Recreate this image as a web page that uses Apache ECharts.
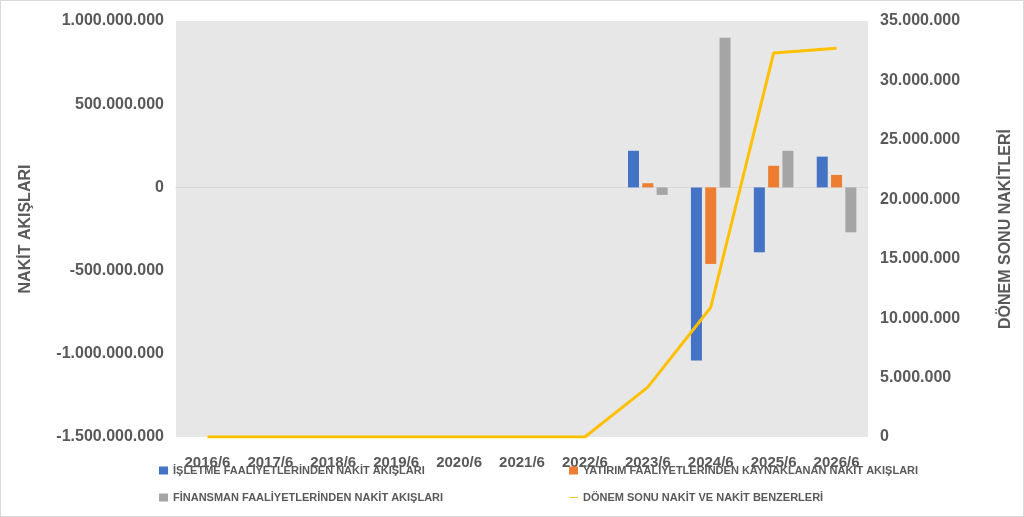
<!DOCTYPE html>
<html><head><meta charset="utf-8">
<script src="https://cdn.jsdelivr.net/npm/echarts@6/dist/echarts.min.js"></script>
<style>html,body{margin:0;padding:0;background:#fff}#divChart{width:1022px;height:515px;border:1px solid #d9d9d9}</style>
</head><body><div id="divChart"></div>
<script>
var categories = ['2016/6','2017/6','2018/6','2019/6','2020/6','2021/6','2022/6','2023/6','2024/6','2025/6','2026/6'];
var isletme = [null,null,null,null,null,null,null,220000000,-1040000000,-390000000,185000000];
var yatirim = [null,null,null,null,null,null,null,25000000,-460000000,130000000,75000000];
var finansman = [null,null,null,null,null,null,null,-45000000,900000000,220000000,-270000000];
var donemSonu = [0,0,0,0,0,0,0,4200000,10900000,32300000,32700000];

var names = ['İŞLETME FAALİYETLERİNDEN NAKİT AKIŞLARI','YATIRIM FAALİYETLERİNDEN KAYNAKLANAN NAKİT AKIŞLARI','FİNANSMAN FAALİYETLERİNDEN NAKİT AKIŞLARI','DÖNEM SONU NAKİT VE NAKİT BENZERLERİ'];

function fmt(v) {
    return String(v).replace(/\B(?=(\d{3})+(?!\d))/g, '.');
}

var myChart = echarts.init(document.getElementById('divChart'));
var lbl = { color: '#595959', fontSize: 16, fontWeight: 'bold', fontFamily: 'Liberation Sans' };
var legendText = { color: '#595959', fontSize: 11, fontWeight: 'bold', fontFamily: 'Liberation Sans' };
var lineIcon = 'path://M0,0L30,0L30,3L0,3Z';
var option = {
    animation: false,
    grid: { left: 175, right: 155, top: 20, bottom: 79, show: true, backgroundColor: '#e7e7e7', borderWidth: 0 },
    legend: [
        { orient: 'vertical', left: 153, top: 459, itemGap: 16, itemWidth: 9, itemHeight: 8, textStyle: legendText,
          data: [{ name: names[0], icon: 'rect' }, { name: names[2], icon: 'rect' }] },
        { orient: 'vertical', left: 563, top: 459, itemGap: 16, itemWidth: 9, itemHeight: 8, textStyle: legendText,
          data: [{ name: names[1], icon: 'rect' }, { name: names[3], icon: lineIcon, itemWidth: 28, itemHeight: 3 }] }
    ],
    xAxis: {
        type: 'category', data: categories,
        axisLine: { onZero: true, onZeroAxisIndex: 0, lineStyle: { color: '#d9d9d9' } },
        axisTick: { show: false },
        axisLabel: Object.assign({ margin: 18, interval: 0 }, lbl, { fontSize: 15 })
    },
    yAxis: [
        { type: 'value', min: -1500000000, max: 1000000000, interval: 500000000,
          name: 'NAKİT AKIŞLARI', nameLocation: 'middle', nameGap: 142, nameTextStyle: lbl,
          splitLine: { show: false }, axisLabel: Object.assign({ formatter: fmt, margin: 12 }, lbl) },
        { type: 'value', min: 0, max: 35000000, interval: 5000000,
          name: 'DÖNEM SONU NAKİTLERİ', nameLocation: 'middle', nameGap: 130, nameRotate: 90, nameTextStyle: lbl,
          splitLine: { show: false }, axisLabel: Object.assign({ formatter: fmt, margin: 12 }, lbl) }
    ],
    series: [
        { name: names[0], type: 'bar', data: isletme, barWidth: 11, barGap: '30%', itemStyle: { color: '#4472c4' } },
        { name: names[1], type: 'bar', data: yatirim, barWidth: 11, barGap: '30%', itemStyle: { color: '#ed7d31' } },
        { name: names[2], type: 'bar', data: finansman, barWidth: 11, barGap: '30%', itemStyle: { color: '#a5a5a5' } },
        { name: names[3], type: 'line', yAxisIndex: 1, data: donemSonu, symbol: 'none', lineStyle: { color: '#ffc000', width: 3 }, itemStyle: { color: '#ffc000' } }
    ]
};
myChart.setOption(option);
</script></body></html>
